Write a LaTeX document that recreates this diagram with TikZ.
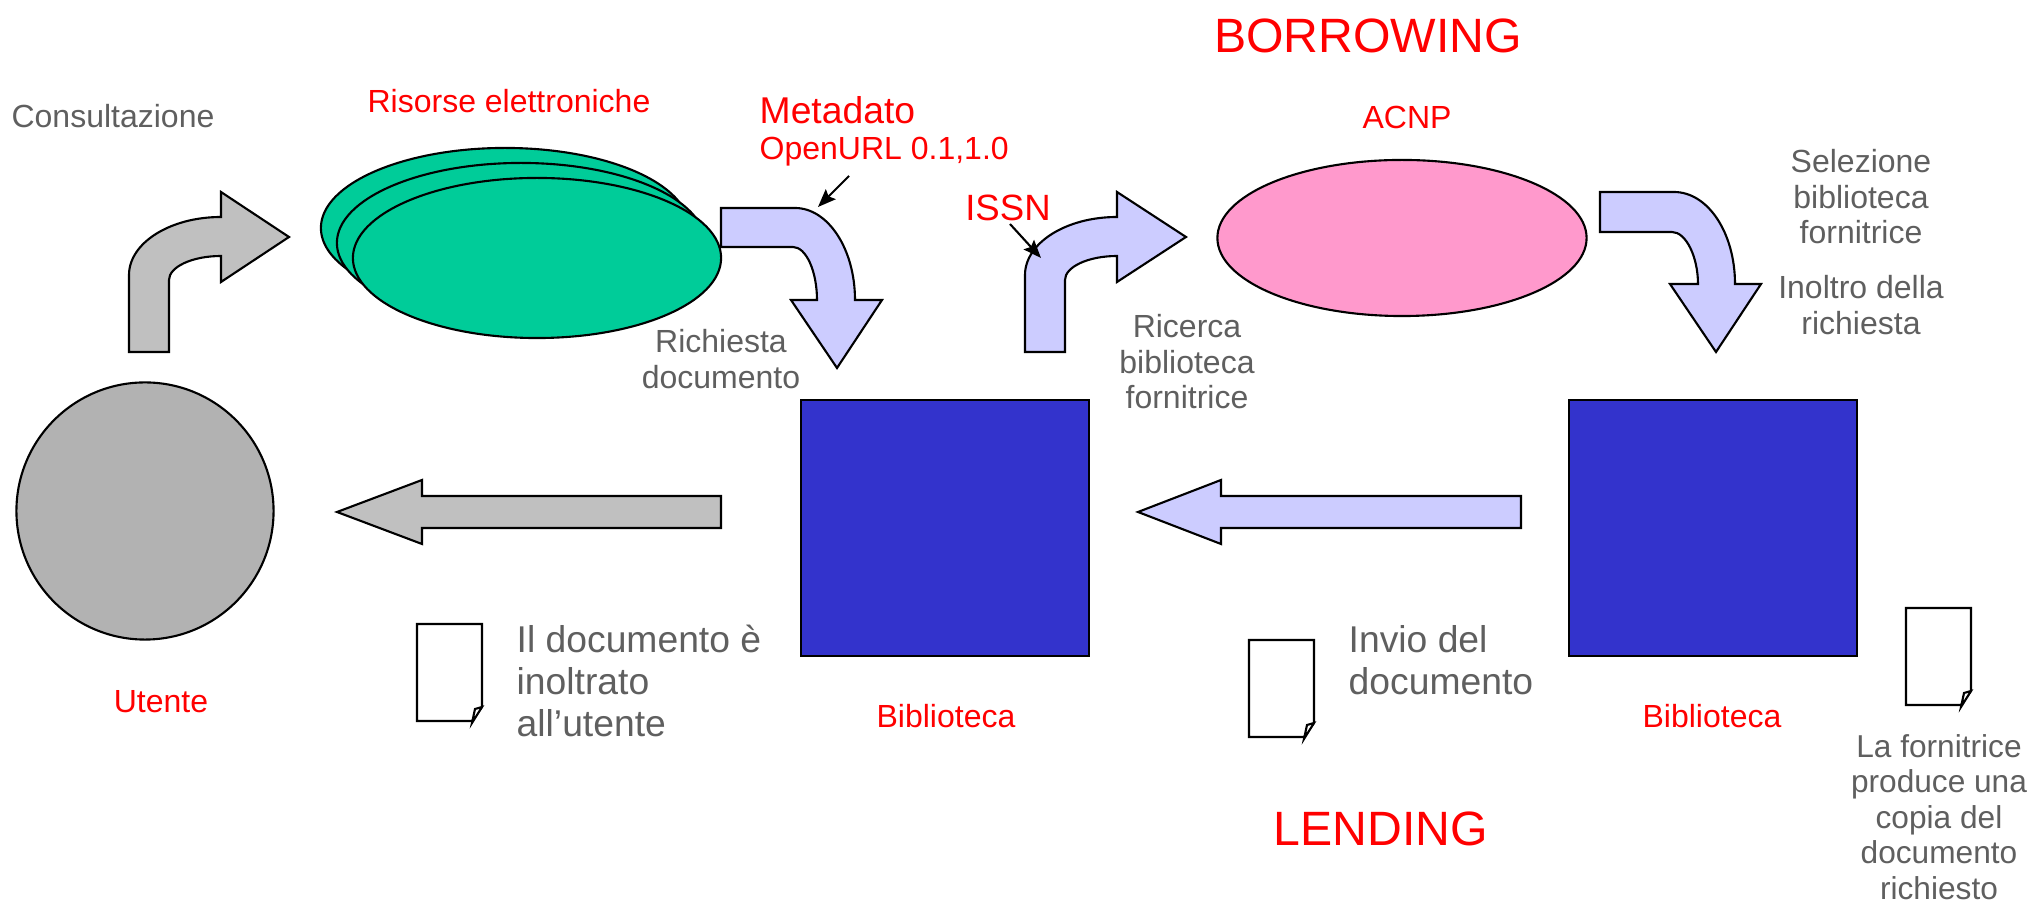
\documentclass[tikz,border=0pt]{standalone}
\usepackage{fontspec}
\setmainfont{Liberation Sans}
\usepackage{tikz}
\usetikzlibrary{arrows.meta,shapes.geometric}
\definecolor{labelgrey}{HTML}{5F5F5F}
\definecolor{arrowgrey}{HTML}{C0C0C0}
\definecolor{arrowblue}{HTML}{CCCCFF}
\definecolor{sourcegreen}{HTML}{00CC99}
\definecolor{catalogpink}{HTML}{FF99CC}
\definecolor{librarybox}{HTML}{3333CC}
\definecolor{usergrey}{HTML}{B2B2B2}
\tikzset{
  line/.style={draw=black,line width=0.6pt},
  pointer/.style={line,-{Stealth[length=1.8mm,width=1.4mm,inset=0.3mm]}},
  greytext/.style={text=labelgrey,font=\fontsize{9.1}{10.1}\selectfont,align=center,inner sep=0},
  bigtext/.style={text=labelgrey,font=\fontsize{10.6}{11.9}\selectfont,align=left,inner sep=0},
  redtext/.style={text=red,font=\fontsize{9.1}{10.1}\selectfont,inner sep=0},
  titletext/.style={text=red,font=\fontsize{13.7}{15}\selectfont,inner sep=0},
  library/.style={line,fill=librarybox,inner sep=0,minimum width=2.88cm,minimum height=2.55cm},
  source/.style={line,fill=sourcegreen,ellipse,inner sep=0,minimum width=3.68cm,minimum height=1.6cm},
  docicon/.pic={
    \draw[line,fill=white] (0,0) -- (65,0) -- (65,83) -- (55,97) -- (0,97) -- cycle;
    \draw[line,fill=white] (65,83) -- (58,85) -- (55,99) -- cycle;
  }
}
\begin{document}
\begin{tikzpicture}[x=0.01cm,y=-0.01cm]
  \useasboundingbox (0,0) rectangle (2035,901);
  % shapes
  \node[line,fill=usergrey,circle,inner sep=0,minimum size=2.57cm] (user) at (145,511) {};
  \node[source] (sourceA) at (505,228) {};
  \node[source] (sourceB) at (521,243) {};
  \node[source] (sourceC) at (537,258) {};
  \node[line,fill=catalogpink,ellipse,inner sep=0,minimum width=3.69cm,minimum height=1.56cm] (acnp) at (1402,238) {};
  \node[library] (libA) at (945,528) {};
  \node[library] (libB) at (1713,528) {};
  % big arrows
  \draw[line,fill=arrowgrey] (129,352) -- (129,275) .. controls (129,243) and (170,217) .. (221,217)
    -- (221,192) -- (289,237) -- (221,282) -- (221,256) .. controls (192,256) and (169,267) .. (169,280)
    -- (169,352) -- cycle;
  \draw[line,fill=arrowblue] (721,208) -- (795,208) .. controls (828,208) and (855,249) .. (855,300)
    -- (882,300) -- (837,368) -- (791,300) -- (817,300) .. controls (817,271) and (806,247) .. (793,247)
    -- (721,247) -- cycle;
  \draw[line,fill=arrowblue] (1025,352) -- (1025,275) .. controls (1025,243) and (1066,217) .. (1117,217)
    -- (1117,192) -- (1186,237) -- (1117,282) -- (1117,256) .. controls (1088,256) and (1065,267) .. (1065,280)
    -- (1065,352) -- cycle;
  \draw[line,fill=arrowblue] (1600,192) -- (1674,192) .. controls (1708,192) and (1735,233) .. (1735,284)
    -- (1761,284) -- (1716,352) -- (1670,284) -- (1698,284) .. controls (1698,257) and (1686,232) .. (1672,232)
    -- (1600,232) -- cycle;
  \draw[line,fill=arrowgrey] (721,496) -- (422,496) -- (422,480) -- (337,512) -- (422,544) -- (422,528) -- (721,528) -- cycle;
  \draw[line,fill=arrowblue] (1521,496) -- (1221,496) -- (1221,480) -- (1138,512) -- (1221,544) -- (1221,528) -- (1521,528) -- cycle;
  % small pointers
  \coordinate (metaA) at (849,176);
  \coordinate (metaB) at (818,207);
  \coordinate (issnA) at (1010,224);
  \coordinate (issnB) at (1041,258);
  \draw[pointer] (metaA) -- (metaB);
  \draw[pointer] (issnA) -- (issnB);
  % documents
  \pic at (417,624) {docicon};
  \pic at (1249,640) {docicon};
  \pic at (1906,608) {docicon};
  % labels
  \node[titletext] (borrow) at (1368,36) {BORROWING};
  \node[titletext] (lend) at (1381,829) {LENDING};
  \node[greytext] (consult) at (113,116) {Consultazione};
  \node[redtext] (risorse) at (509,101) {Risorse elettroniche};
  \node[redtext,anchor=west,font=\fontsize{10.6}{12}\selectfont] (meta) at (759,110) {Metadato};
  \node[redtext,anchor=west,font=\fontsize{9.1}{10}\selectfont] (openurl) at (759,152) {OpenURL 0.1,1.0};
  \node[redtext,font=\fontsize{10.4}{12}\selectfont] (issn) at (1008,208) {ISSN};
  \node[redtext] (acnplabel) at (1407,117) {ACNP};
  \node[greytext] (selezione) at (1861,197) {Selezione\\biblioteca\\fornitrice};
  \node[greytext] (inoltro) at (1861,305) {Inoltro della\\richiesta};
  \node[greytext] (ricerca) at (1187,362) {Ricerca\\biblioteca\\fornitrice};
  \node[greytext] (richiesta) at (721,359) {Richiesta\\documento};
  \node[bigtext,anchor=west] (inoltrato) at (516,681) {Il documento è\\inoltrato\\all’utente};
  \node[bigtext,anchor=west] (invio) at (1348,660) {Invio del\\documento};
  \node[greytext,font=\fontsize{9}{10.1}\selectfont] (copia) at (1939,817) {La fornitrice\\produce una\\copia del\\documento\\richiesto};
  \node[redtext] (utente) at (161,702) {Utente};
  \node[redtext] (bibA) at (946,716) {Biblioteca};
  \node[redtext] (bibB) at (1712,716) {Biblioteca};
\end{tikzpicture}
\end{document}
